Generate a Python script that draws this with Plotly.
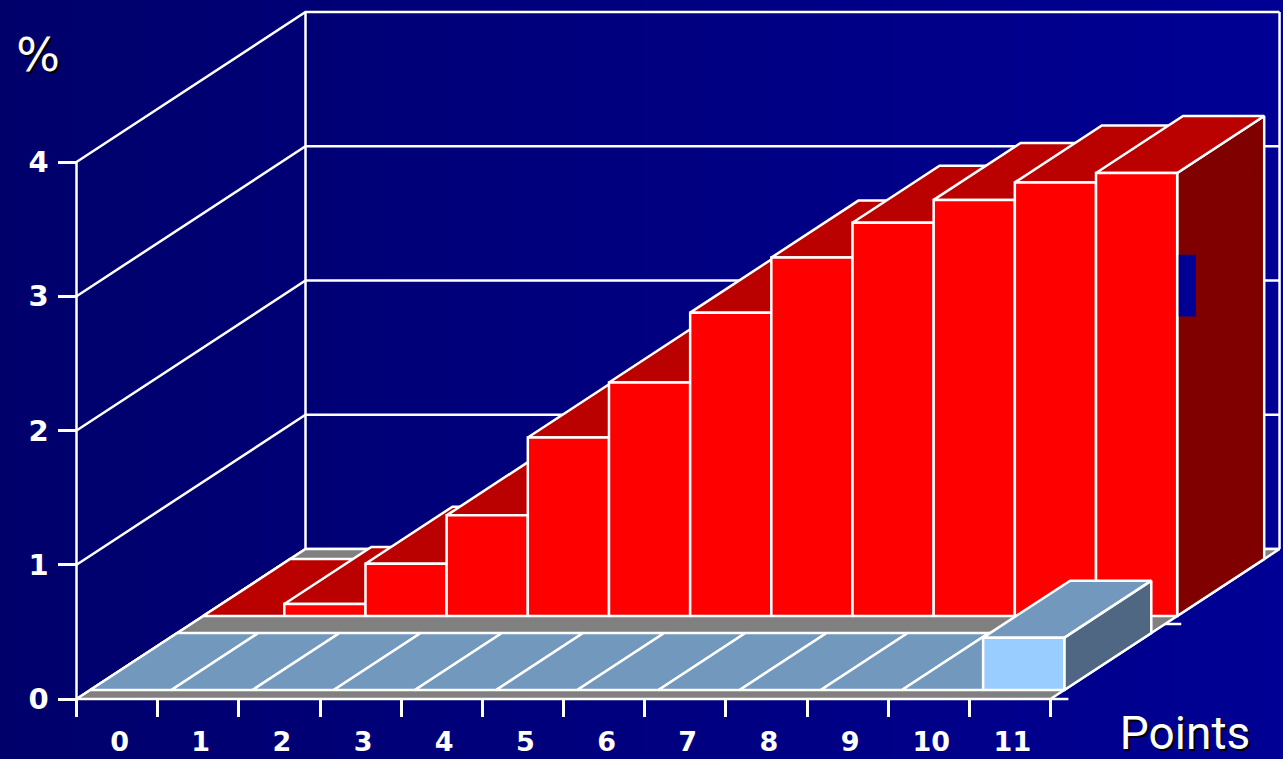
import plotly.graph_objects as go

# Chart data
CATEGORIES = ["0", "1", "2", "3", "4", "5", "6", "7", "8", "9", "10", "11"]
RED_VALUES = [0.0, 0.09, 0.39, 0.75, 1.33, 1.74, 2.26, 2.67, 2.93, 3.10, 3.23, 3.30]
BLUE_VALUES = [0.0, 0.0, 0.0, 0.0, 0.0, 0.0, 0.0, 0.0, 0.0, 0.0, 0.0, 0.39]
Y_TICKS = [0, 1, 2, 3, 4]

# Page layout, in pixels
WIDTH, HEIGHT = 1283, 759
ORIGIN_X, ORIGIN_Y = 76.5, 699.0
UNIT_X, UNIT_Y = 81.17, 134.25

# Oblique projection: full floor depth expressed in axis units
DEPTH_X = 229.0 / UNIT_X
DEPTH_Y = 150.0 / UNIT_Y

# Position of each bar row on the floor (0 = front, 1 = back)
BLUE_ROW = (0.06, 0.44)
RED_ROW = (0.553, 0.933)

WHITE = "#ffffff"
GREY = "#808080"
RED = ("#ff0000", "#bb0000", "#800000")
BLUE = ("#99ccff", "#7299bd", "#506784")
BG_LEFT, BG_RIGHT = "#00006b", "#000094"

N = len(CATEGORIES)
fig = go.Figure()


def project(x, y, d):
    return x + d * DEPTH_X, y + d * DEPTH_Y


def poly(points, fill=None, width=2.5):
    xs = [p[0] for p in points]
    ys = [p[1] for p in points]
    trace = dict(x=xs, y=ys, mode="lines", line=dict(color=WHITE, width=width),
                 hoverinfo="skip", showlegend=False)
    if fill:
        trace.update(x=xs + xs[:1], y=ys + ys[:1], fill="toself", fillcolor=fill)
    fig.add_trace(go.Scatter(**trace))


def bar(i, value, row, colors):
    front, top, side = colors
    d0, d1 = row
    a = project(i, 0, d0)
    b = project(i + 1, 0, d0)
    c = project(i + 1, value, d0)
    e = project(i, value, d0)
    f = project(i, value, d1)
    g = project(i + 1, value, d1)
    h = project(i + 1, 0, d1)
    if value > 0:
        poly([b, h, g, c], side)
    poly([e, f, g, c], top)
    if value > 0:
        poly([a, b, c, e], front)


def label(text, px, py, family, size):
    # Page-pixel position converted to axis units
    fig.add_trace(go.Scatter(
        x=[(px - ORIGIN_X) / UNIT_X], y=[(ORIGIN_Y - py) / UNIT_Y],
        mode="text", text=[text], textposition="middle center",
        textfont=dict(family=family, size=size, color=WHITE,
                      shadow="2px 2px 0px #000000"),
        hoverinfo="skip", showlegend=False, cliponaxis=False,
    ))


# Background gradient, dark at the left
x_min = -ORIGIN_X / UNIT_X
x_max = (WIDTH - ORIGIN_X) / UNIT_X
y_min = (ORIGIN_Y - HEIGHT) / UNIT_Y
y_max = ORIGIN_Y / UNIT_Y
fig.add_trace(go.Heatmap(
    x=[x_min, x_max], y=[y_min, y_max], z=[[0, 1], [0, 1]],
    colorscale=[[0, BG_LEFT], [1, BG_RIGHT]], zsmooth="best",
    showscale=False, hoverinfo="skip",
))

# Back and side walls with their grid lines
top_level = Y_TICKS[-1]
for level in Y_TICKS:
    poly([(0, level), project(0, level, 1), project(N, level, 1)])
poly([(0, 0), (0, top_level)])
poly([project(0, 0, 1), project(0, top_level, 1)])
poly([project(N, 0, 1), project(N, top_level, 1)])

# Floor plate
poly([(0, 0), (N, 0), project(N, 0, 1), project(0, 0, 1)], GREY)
poly([(N, 0), (N + 0.22, 0)])
poly([project(N, 0, 0.5), (project(N, 0, 0.5)[0] + 0.2, project(N, 0, 0.5)[1])])

# Rear row of bars, then front row, each painted left to right
for i, v in enumerate(RED_VALUES):
    bar(i, v, RED_ROW, RED)
for i, v in enumerate(BLUE_VALUES):
    bar(i, v, BLUE_ROW, BLUE)

label("%", 38, 59, "DejaVu Sans", 46)
label("Points", 1185, 737, "Roboto", 46)

axis_range_x = [x_min, x_max]
axis_range_y = [y_min, y_max]
TICK_FONT = dict(family="DejaVu Sans", size=29, color=WHITE, weight="bold")
X_LABEL_FONT = dict(family="DejaVu Sans", size=27, color=WHITE, weight="bold")

fig.update_layout(
    width=WIDTH, height=HEIGHT, autosize=False,
    margin=dict(l=0, r=0, t=0, b=0, pad=0, autoexpand=False),
    paper_bgcolor=BG_LEFT, plot_bgcolor=BG_LEFT,
    showlegend=False,
    xaxis=dict(
        range=axis_range_x, showgrid=False, zeroline=False, showline=False,
        anchor="free", position=(HEIGHT - ORIGIN_Y) / HEIGHT, automargin=False,
        tickmode="array", tickvals=list(range(N + 1)),
        ticktext=[""] * (N + 1),
        ticks="outside", ticklen=17, tickwidth=2.5, tickcolor=WHITE,
    ),
    # Second x axis carries the labels, centred between the tick marks
    xaxis2=dict(
        range=axis_range_x, overlaying="x", side="bottom", showgrid=False,
        zeroline=False, showline=False, automargin=False,
        anchor="free", position=(HEIGHT - ORIGIN_Y) / HEIGHT,
        tickmode="array", tickvals=[i + 0.53 for i in range(N)],
        ticktext=CATEGORIES, tickfont=X_LABEL_FONT,
        ticks="outside", ticklen=19, tickwidth=1, tickcolor="rgba(0,0,0,0)",
    ),
    yaxis=dict(
        range=axis_range_y, showgrid=False, zeroline=False, showline=False,
        anchor="free", position=ORIGIN_X / WIDTH, automargin=False,
        tickmode="array", tickvals=Y_TICKS, ticktext=[str(t) for t in Y_TICKS],
        tickfont=TICK_FONT, ticks="outside", ticklen=19, tickwidth=2.5,
        tickcolor=WHITE, ticklabelstandoff=3,
    ),
    # Stray background-coloured patch on the last bar's side face
    shapes=[dict(
        type="rect", xref="x", yref="y", layer="above", line_width=0,
        fillcolor=BG_RIGHT, x0=13.58, x1=13.79, y0=2.85, y1=3.31,
    )],
)

# Invisible trace so the label axis is drawn
fig.add_trace(go.Scatter(x=[0], y=[0], xaxis="x2", mode="markers",
                         marker=dict(opacity=0), hoverinfo="skip", showlegend=False))

fig.write_html("out.html", config=dict(displayModeBar=False))
